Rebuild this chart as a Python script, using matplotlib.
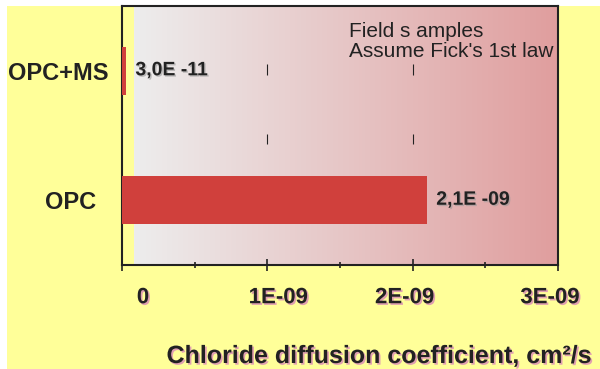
import numpy as np
import matplotlib
matplotlib.use('Agg')
import matplotlib.pyplot as plt
import matplotlib.patheffects as pe
from matplotlib.colors import LinearSegmentedColormap
from matplotlib.patches import Rectangle
from matplotlib.transforms import ScaledTranslation

# data
categories = ['OPC', 'OPC+MS']
diffusion = [2.1e-9, 3.0e-11]
value_labels = ['2,1E -09', '3,0E -11']
tick_values = [0, 1e-9, 2e-9, 3e-9]
tick_labels = ['0', '1E-09', '2E-09', '3E-09']
note = "Field s amples\nAssume Fick's 1st law"

yellow = '#FFFF99'
bar_red = '#D0403C'
dark = '#222222'

plt.rcParams['font.family'] = ['Liberation Sans', 'DejaVu Sans']

fig = plt.figure(figsize=(6, 3.69), dpi=100, facecolor='white')
# yellow slide background with thin white margin top/left
fig.patches.append(Rectangle((7 / 600, 0), 1, 1 - 6 / 369, transform=fig.transFigure,
                             facecolor=yellow, edgecolor='none', zorder=-10))

ax = fig.add_axes([122 / 600, 104 / 369, 436 / 600, 259 / 369])
ax.set_facecolor('none')
ax.set_xlim(0, 3e-9)
ax.set_ylim(-0.5, 1.5)

# gradient background
cmap = LinearSegmentedColormap.from_list('bg', ['#EDEDED', '#E09E9E'])
grad = np.linspace(0, 1, 256).reshape(1, -1)
ax.imshow(grad, cmap=cmap, aspect='auto', extent=[0.083e-9, 3e-9, -0.5, 1.5],
          zorder=0, interpolation='bilinear')

ypos = np.arange(len(categories))
ax.barh(ypos, diffusion, height=0.37, color=bar_red, zorder=3)

# leftover grid dashes
for xv in tick_values[1:3]:
    ax.vlines(xv, 0.965, 1.05, color=dark, lw=0.8, zorder=2)
    ax.vlines(xv, 0.435, 0.51, color=dark, lw=0.8, zorder=2)

for y, v, lab in zip(ypos, diffusion, value_labels):
    ax.annotate(lab, (v, y), xytext=(6.5, 0), textcoords='offset points',
                va='center', ha='left', fontsize=14, fontweight='bold', color=dark,
                path_effects=[pe.withSimplePatchShadow(offset=(1, -1), shadow_rgbFace='#999999', alpha=0.6)],
                zorder=4)

ax.text(0.52, 0.94, note, transform=ax.transAxes, ha='left', va='top',
        fontsize=15, color=dark, linespacing=1.1)

for sp in ax.spines.values():
    sp.set_color(dark)
    sp.set_linewidth(1.5)

ax.set_yticks(ypos)
ax.set_yticklabels(categories, fontsize=17, fontweight='bold', color=dark)
ax.tick_params(axis='y', length=0, pad=10)
yoff = [-12, 0]
for lab, dx in zip(ax.get_yticklabels(), yoff):
    lab.set_transform(lab.get_transform() + ScaledTranslation(dx / 100, 0, fig.dpi_scale_trans))

shadow = [pe.withSimplePatchShadow(offset=(1.2, -1.2), shadow_rgbFace='#E0A0B0', alpha=1)]
ax.set_xticks(tick_values)
ax.set_xticklabels(tick_labels, fontsize=16, fontweight='bold', color=dark)
ax.set_xticks(np.arange(0.5e-9, 3e-9, 1e-9), minor=True)
ax.tick_params(axis='x', which='major', direction='inout', length=8, width=1.2, color=dark, pad=12)
ax.tick_params(axis='x', which='minor', direction='inout', length=4, width=1.2, color=dark)
xoff = [21, 11, -8, -8]
for lab, dx in zip(ax.get_xticklabels(), xoff):
    lab.set_path_effects(shadow)
    lab.set_transform(lab.get_transform() + ScaledTranslation(dx / 100, 0, fig.dpi_scale_trans))

fig.text(592 / 600, 1 - 363 / 369, 'Chloride diffusion coefficient, cm\u00b2/s', ha='right', va='baseline',
         fontsize=18, fontweight='bold', color=dark, path_effects=shadow)

fig.savefig('out.png', dpi=100, facecolor=fig.get_facecolor())
